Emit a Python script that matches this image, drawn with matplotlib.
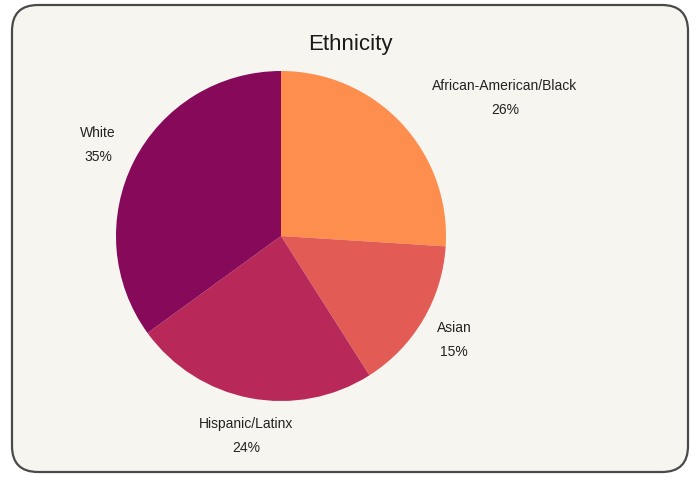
import matplotlib
matplotlib.use("Agg")
import matplotlib.pyplot as plt
from matplotlib.patches import FancyBboxPatch

categories = ["African-American/Black", "Asian", "Hispanic/Latinx", "White"]
values = [26, 15, 24, 35]
colors = ["#FD8E4E", "#E35B55", "#B8295A", "#86095A"]
title = "Ethnicity"

W, H = 696, 478
plt.rcParams['font.family'] = ['Liberation Sans', 'DejaVu Sans']

fig = plt.figure(figsize=(W / 100, H / 100), dpi=100)
fig.patch.set_facecolor("white")
ax = fig.add_axes([0, 0, 1, 1])

box = FancyBboxPatch((12, 6), 676, 467, boxstyle="round,pad=0,rounding_size=26",
                     facecolor="#F7F5F0", edgecolor="#4A4A4A", linewidth=1.6, zorder=0)
ax.add_patch(box)

cx, cy, r = 281, H - 236, 165
wedges, _ = ax.pie(values, colors=colors, startangle=90, counterclock=False,
                   center=(cx, cy), radius=r, frame=True,
                   wedgeprops=dict(linewidth=0))
ax.set_xlim(0, W)
ax.set_ylim(0, H)
ax.set_aspect("equal")
ax.axis("off")

# label anchor positions (pixels from top-left)
label_pos = [(505, 98), (454, 340), (246, 436), (98, 145)]
for cat, v, (lx, ly) in zip(categories, values, label_pos):
    ax.text(lx, H - ly, f"{cat}\n{v}%", ha="center", va="center",
            fontsize=10, color="#222222", linespacing=1.85)

ax.text(350, H - 44, title, ha="center", va="center", fontsize=16, color="#1A1A1A")

fig.savefig("out.png", dpi=100)
